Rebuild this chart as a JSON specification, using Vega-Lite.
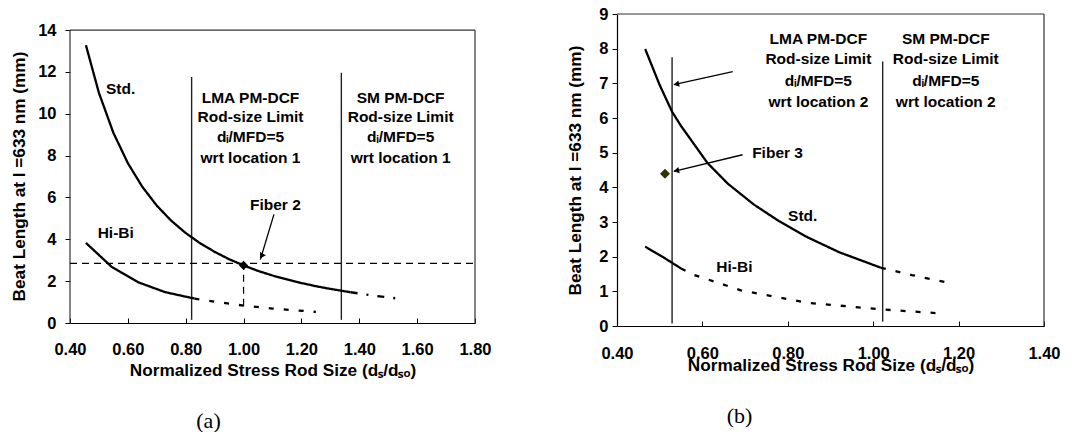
{
  "$schema": "https://vega.github.io/schema/vega-lite/v6.json",
  "padding": {"left": 10, "top": 6, "right": 5, "bottom": 0},
  "background": "white",
  "spacing": 74,
  "config": {
    "view": {"stroke": null},
    "font": "Liberation Sans",
    "axis": {
      "grid": false,
      "labelFont": "Liberation Sans",
      "labelFontWeight": "bold",
      "labelFontSize": 16.5,
      "labelColor": "#000",
      "labelFlush": false,
      "labelOverlap": false,
      "titleFont": "Liberation Sans",
      "titleFontWeight": "bold",
      "titleFontSize": 17.2,
      "titleColor": "#000",
      "domainColor": "#000",
      "tickColor": "#000",
      "domainWidth": 1.2,
      "tickWidth": 1
    },
    "text": {"font": "Liberation Sans", "fontWeight": "bold", "fontSize": 15.5, "color": "#000"}
  },
  "datasets": {
    "curvesA": [
      {"seg": "stdA", "style": "solid", "x": 0.455, "y": 13.28},
      {"seg": "stdA", "style": "solid", "x": 0.50, "y": 11.0},
      {"seg": "stdA", "style": "solid", "x": 0.55, "y": 9.09},
      {"seg": "stdA", "style": "solid", "x": 0.60, "y": 7.64},
      {"seg": "stdA", "style": "solid", "x": 0.65, "y": 6.51},
      {"seg": "stdA", "style": "solid", "x": 0.70, "y": 5.61},
      {"seg": "stdA", "style": "solid", "x": 0.75, "y": 4.89},
      {"seg": "stdA", "style": "solid", "x": 0.80, "y": 4.30},
      {"seg": "stdA", "style": "solid", "x": 0.85, "y": 3.81},
      {"seg": "stdA", "style": "solid", "x": 0.90, "y": 3.40},
      {"seg": "stdA", "style": "solid", "x": 0.95, "y": 3.05},
      {"seg": "stdA", "style": "solid", "x": 1.00, "y": 2.75},
      {"seg": "stdA", "style": "solid", "x": 1.05, "y": 2.49},
      {"seg": "stdA", "style": "solid", "x": 1.10, "y": 2.27},
      {"seg": "stdA", "style": "solid", "x": 1.15, "y": 2.08},
      {"seg": "stdA", "style": "solid", "x": 1.20, "y": 1.91},
      {"seg": "stdA", "style": "solid", "x": 1.25, "y": 1.76},
      {"seg": "stdA", "style": "solid", "x": 1.30, "y": 1.63},
      {"seg": "stdA", "style": "solid", "x": 1.37, "y": 1.47},
      {"seg": "stdAx", "style": "dashdot", "x": 1.37, "y": 1.47},
      {"seg": "stdAx", "style": "dashdot", "x": 1.46, "y": 1.29},
      {"seg": "stdAx", "style": "dashdot", "x": 1.55, "y": 1.14},
      {"seg": "hibiA", "style": "solid", "x": 0.455, "y": 3.83},
      {"seg": "hibiA", "style": "solid", "x": 0.545, "y": 2.67},
      {"seg": "hibiA", "style": "solid", "x": 0.635, "y": 1.95},
      {"seg": "hibiA", "style": "solid", "x": 0.73, "y": 1.47},
      {"seg": "hibiA", "style": "solid", "x": 0.83, "y": 1.17},
      {"seg": "hibiAx", "style": "dash", "x": 0.83, "y": 1.17},
      {"seg": "hibiAx", "style": "dash", "x": 0.90, "y": 1.02},
      {"seg": "hibiAx", "style": "dash", "x": 1.00, "y": 0.83},
      {"seg": "hibiAx", "style": "dash", "x": 1.10, "y": 0.69},
      {"seg": "hibiAx", "style": "dash", "x": 1.25, "y": 0.53}
    ],
    "curvesB": [
      {"seg": "stdB", "style": "solid", "x": 0.466, "y": 7.99},
      {"seg": "stdB", "style": "solid", "x": 0.50, "y": 6.95},
      {"seg": "stdB", "style": "solid", "x": 0.529, "y": 6.18},
      {"seg": "stdB", "style": "solid", "x": 0.55, "y": 5.77},
      {"seg": "stdB", "style": "solid", "x": 0.612, "y": 4.70},
      {"seg": "stdB", "style": "solid", "x": 0.66, "y": 4.10},
      {"seg": "stdB", "style": "solid", "x": 0.721, "y": 3.50},
      {"seg": "stdB", "style": "solid", "x": 0.78, "y": 3.02},
      {"seg": "stdB", "style": "solid", "x": 0.846, "y": 2.56},
      {"seg": "stdB", "style": "solid", "x": 0.92, "y": 2.13},
      {"seg": "stdB", "style": "solid", "x": 1.018, "y": 1.68},
      {"seg": "stdBx", "style": "dash", "x": 1.018, "y": 1.68},
      {"seg": "stdBx", "style": "dash", "x": 1.09, "y": 1.47},
      {"seg": "stdBx", "style": "dash", "x": 1.168, "y": 1.27},
      {"seg": "hibiB", "style": "solid", "x": 0.466, "y": 2.29},
      {"seg": "hibiB", "style": "solid", "x": 0.51, "y": 1.97},
      {"seg": "hibiB", "style": "solid", "x": 0.55, "y": 1.66},
      {"seg": "hibiBx", "style": "dash", "x": 0.55, "y": 1.66},
      {"seg": "hibiBx", "style": "dash", "x": 0.581, "y": 1.47},
      {"seg": "hibiBx", "style": "dash", "x": 0.69, "y": 1.03},
      {"seg": "hibiBx", "style": "dash", "x": 0.846, "y": 0.67},
      {"seg": "hibiBx", "style": "dash", "x": 1.018, "y": 0.48},
      {"seg": "hibiBx", "style": "dash", "x": 1.162, "y": 0.36}
    ],
    "annA": [
      {"text": "Std.", "x": 0.575, "y": 11.17},
      {"text": "Hi-Bi", "x": 0.558, "y": 4.28},
      {"text": "Fiber 2", "x": 1.11, "y": 5.64},
      {"text": "LMA PM-DCF", "x": 1.024, "y": 10.77},
      {"text": "Rod-size Limit", "x": 1.024, "y": 9.86},
      {"text": "dᵢ/MFD=5", "x": 1.024, "y": 8.89},
      {"text": "wrt location 1", "x": 1.024, "y": 7.90},
      {"text": "SM PM-DCF", "x": 1.543, "y": 10.77},
      {"text": "Rod-size Limit", "x": 1.543, "y": 9.86},
      {"text": "dᵢ/MFD=5", "x": 1.543, "y": 8.89},
      {"text": "wrt location 1", "x": 1.543, "y": 7.90}
    ],
    "annB": [
      {"text": "Std.", "x": 0.835, "y": 3.18},
      {"text": "Hi-Bi", "x": 0.675, "y": 1.71},
      {"text": "Fiber 3", "x": 0.776, "y": 4.99},
      {"text": "LMA PM-DCF", "x": 0.8715, "y": 8.28},
      {"text": "Rod-size Limit", "x": 0.8715, "y": 7.70},
      {"text": "dᵢ/MFD=5", "x": 0.8715, "y": 7.07},
      {"text": "wrt location 2", "x": 0.8715, "y": 6.45},
      {"text": "SM PM-DCF", "x": 1.17, "y": 8.28},
      {"text": "Rod-size Limit", "x": 1.17, "y": 7.70},
      {"text": "dᵢ/MFD=5", "x": 1.17, "y": 7.07},
      {"text": "wrt location 2", "x": 1.17, "y": 6.45}
    ]
  },
  "hconcat": [
    {
      "width": 405,
      "height": 309,
      "title": {"text": "(a)", "orient": "bottom", "font": "Liberation Serif", "fontSize": 22, "fontWeight": "normal", "color": "#000", "anchor": "middle", "frame": "group", "dx": -64, "offset": 32},
      "encoding": {
        "x": {"field": "x", "type": "quantitative", "scale": {"domain": [0.4, 1.8], "nice": false, "zero": false},
              "axis": {"title": "Normalized Stress Rod Size (dₛ/dₛₒ)", "values": [0.4, 0.6, 0.8, 1.0, 1.2, 1.4, 1.6, 1.8], "format": ".2f", "tickSize": -5, "labelPadding": 23, "titlePadding": 4}},
        "y": {"field": "y", "type": "quantitative", "scale": {"domain": [0, 14.77], "nice": false, "zero": false},
              "axis": {"title": "Beat Length at l =633 nm (mm)", "values": [0, 2, 4, 6, 8, 10, 12, 14], "domain": false, "tickSize": 5, "labelPadding": 9, "titlePadding": 9, "titleY": 162}}
      },
      "layer": [
        {"data": {"values": [{"x": 0.4, "x2": 1.8, "y": 14, "y2": 14}, {"x": 1.8, "x2": 1.8, "y": 0, "y2": 14}, {"x": 0.4, "x2": 0.4, "y": 0, "y2": 14}]},
         "mark": {"type": "rule", "color": "#333", "strokeWidth": 1.2},
         "encoding": {"x2": {"field": "x2"}, "y2": {"field": "y2"}}},
        {"data": {"values": [{"x": 0.8204, "y": 0.15, "y2": 11.76}, {"x": 1.338, "y": 0.15, "y2": 11.96}]},
         "mark": {"type": "rule", "color": "#222", "strokeWidth": 1.4},
         "encoding": {"y2": {"field": "y2"}}},
        {"data": {"values": [{"x": 0.4, "x2": 1.8, "y": 2.85, "y2": 2.85}, {"x": 1.0, "x2": 1.0, "y": 0.83, "y2": 2.75}]},
         "mark": {"type": "rule", "color": "#000", "strokeWidth": 1.2, "strokeDash": [7, 5]},
         "encoding": {"x2": {"field": "x2"}, "y2": {"field": "y2"}}},
        {"data": {"name": "curvesA"},
         "mark": {"type": "line", "color": "#000", "strokeWidth": 2.3},
         "encoding": {"detail": {"field": "seg"},
                      "strokeDash": {"field": "style", "type": "nominal", "scale": {"domain": ["solid", "dashdot", "dash"], "range": [[1, 0], [7, 9, 2, 9], [5, 10]]}, "legend": null}}},
        {"data": {"values": [{"x": 1.105, "y": 5.19, "x2": 1.058, "y2": 3.03}]},
         "mark": {"type": "rule", "color": "#000", "strokeWidth": 1.3},
         "encoding": {"x2": {"field": "x2"}, "y2": {"field": "y2"}}},
        {"data": {"values": [{"x": 1.062, "y": 3.2}]},
         "mark": {"type": "point", "shape": "triangle-up", "filled": true, "color": "#000", "size": 45, "angle": 209, "opacity": 1}},
        {"data": {"values": [{"x": 1.0, "y": 2.75}]},
         "mark": {"type": "point", "shape": "diamond", "filled": true, "color": "#000", "size": 85, "opacity": 1}},
        {"data": {"name": "annA"},
         "mark": {"type": "text", "align": "center", "baseline": "middle"},
         "encoding": {"text": {"field": "text"}}}
      ]
    },
    {
      "width": 427,
      "height": 312,
      "title": {"text": "(b)", "orient": "bottom", "font": "Liberation Serif", "fontSize": 22, "fontWeight": "normal", "color": "#000", "anchor": "middle", "frame": "group", "dx": -91, "offset": 32},
      "encoding": {
        "x": {"field": "x", "type": "quantitative", "scale": {"domain": [0.4, 1.4], "nice": false, "zero": false},
              "axis": {"title": "Normalized Stress Rod Size (dₛ/dₛₒ)", "values": [0.4, 0.6, 0.8, 1.0, 1.2, 1.4], "format": ".2f", "tickSize": -5, "labelPadding": 24, "titlePadding": -5}},
        "y": {"field": "y", "type": "quantitative", "scale": {"domain": [0, 9], "nice": false, "zero": false},
              "axis": {"title": "Beat Length at l =633 nm (mm)", "values": [0, 1, 2, 3, 4, 5, 6, 7, 8, 9], "tickSize": 5, "labelPadding": 4, "titlePadding": 14}}
      },
      "layer": [
        {"data": {"values": [{"x": 0.4, "x2": 1.4, "y": 9, "y2": 9}, {"x": 1.4, "x2": 1.4, "y": 0, "y2": 9}]},
         "mark": {"type": "rule", "color": "#333", "strokeWidth": 1.2},
         "encoding": {"x2": {"field": "x2"}, "y2": {"field": "y2"}}},
        {"data": {"values": [{"x": 0.529, "y": 0.07, "y2": 7.75}, {"x": 1.0222, "y": 0.12, "y2": 7.63}]},
         "mark": {"type": "rule", "color": "#222", "strokeWidth": 1.4},
         "encoding": {"y2": {"field": "y2"}}},
        {"data": {"name": "curvesB"},
         "mark": {"type": "line", "color": "#000", "strokeWidth": 2.3},
         "encoding": {"detail": {"field": "seg"},
                      "strokeDash": {"field": "style", "type": "nominal", "scale": {"domain": ["solid", "dashdot", "dash"], "range": [[1, 0], [7, 9, 2, 9], [5, 10]]}, "legend": null}}},
        {"data": {"values": [{"x": 0.671, "y": 7.34, "x2": 0.533, "y2": 6.96}, {"x": 0.694, "y": 4.94, "x2": 0.533, "y2": 4.46}]},
         "mark": {"type": "rule", "color": "#000", "strokeWidth": 1.3},
         "encoding": {"x2": {"field": "x2"}, "y2": {"field": "y2"}}},
        {"data": {"values": [{"x": 0.539, "y": 6.975}, {"x": 0.539, "y": 4.48}]},
         "mark": {"type": "point", "shape": "triangle-up", "filled": true, "color": "#000", "size": 40, "angle": 257, "opacity": 1}},
        {"data": {"values": [{"x": 0.5124, "y": 4.39}]},
         "mark": {"type": "point", "shape": "diamond", "filled": true, "color": "#333300", "size": 100, "opacity": 1}},
        {"data": {"name": "annB"},
         "mark": {"type": "text", "align": "center", "baseline": "middle"},
         "encoding": {"text": {"field": "text"}}}
      ]
    }
  ]
}
